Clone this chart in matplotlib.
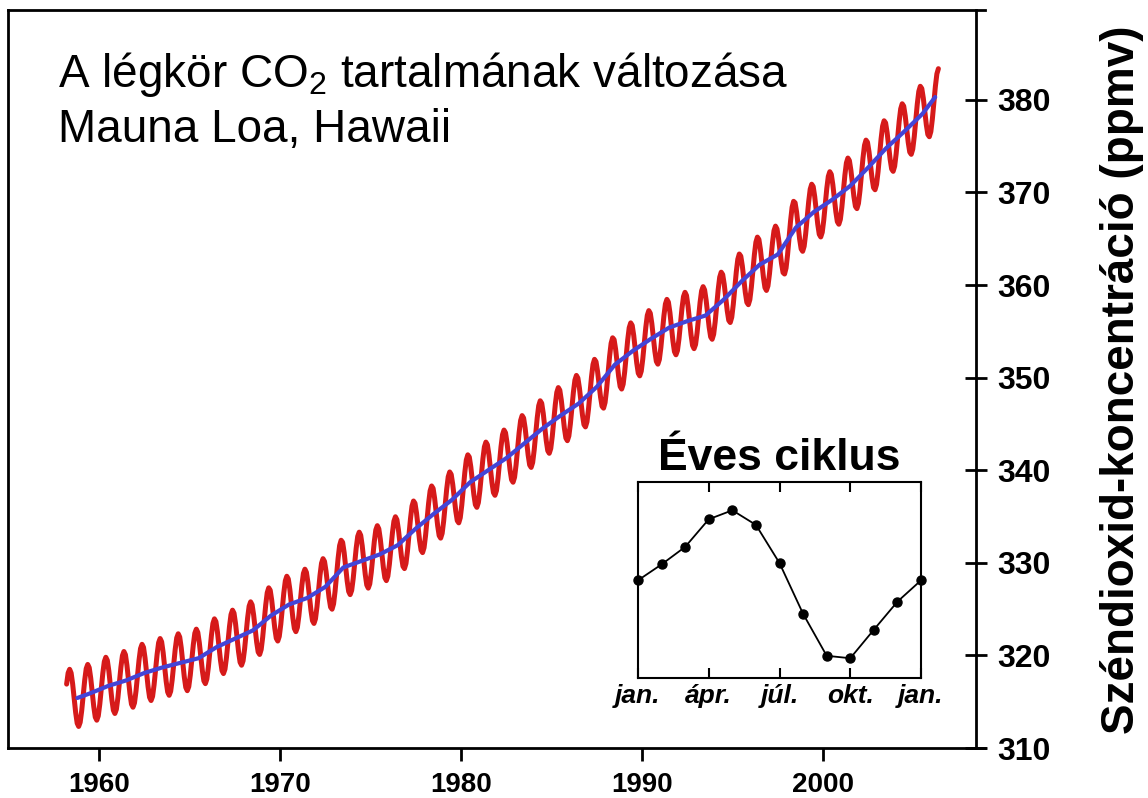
import numpy as np
import matplotlib
matplotlib.use('Agg')
import matplotlib.pyplot as plt

plt.rcParams['font.family'] = ['Liberation Sans', 'DejaVu Sans']
plt.rcParams['mathtext.fontset'] = 'custom'
plt.rcParams['mathtext.rm'] = 'Liberation Sans'
plt.rcParams['mathtext.it'] = 'Liberation Sans:italic'
plt.rcParams['mathtext.bf'] = 'Liberation Sans:bold'

# ---------------- data ----------------
years = list(range(1958, 2007))
annual_mean = [315.3, 315.9, 316.7, 317.3, 318.1, 318.7, 319.2, 319.7, 320.9, 321.8,
               322.7, 324.3, 325.5, 326.2, 327.4, 329.5, 330.2, 330.9, 331.9, 333.7,
               335.3, 336.8, 338.7, 340.0, 341.3, 342.9, 344.5, 345.9, 347.2, 349.0,
               351.4, 352.9, 354.2, 355.4, 356.1, 356.7, 358.4, 360.4, 362.2, 363.3,
               366.2, 367.9, 369.2, 370.7, 372.7, 374.8, 376.6, 378.5, 380.4]
# seasonal swing of the red (monthly) curve around the trend, Jan ... Dec (ppm)
red_cycle = [-1.6, 0.0, 1.6, 2.8, 3.2, 2.8, 1.6, 0.0, -1.6, -2.8, -3.2, -2.8]
# inset "Éves ciklus" points, Jan ... Dec, Jan (ppm offset)
seasonal_cycle = [0.0, 0.71, 1.49, 2.72, 3.12, 2.47, 0.77, -1.49, -3.36, -3.47,
                  -2.20, -0.95, 0.0]
first_month = 2   # record starts March 1958
last_month = 4    # record shown until May 2006
trend_start = (1958.8, 315.4)
trend_end = (2006.2, 380.3)

x_ticks = [1960, 1970, 1980, 1990, 2000]
y_ticks = [310, 320, 330, 340, 350, 360, 370, 380]
inset_ticks = [0, 3, 6, 9, 12]
inset_labels = ['jan.', 'ápr.', 'júl.', 'okt.', 'jan.']

title1 = 'A légkör CO$_2$ tartalmának változása'
title2 = 'Mauna Loa, Hawaii'
ylabel = 'Széndioxid-koncentráció (ppmv)'
inset_title = 'Éves ciklus'

# ---------------- build series ----------------
mid_years = [y + 0.5 for y in years]
red_t, red_v = [], []
for y in years:
    for m in range(12):
        if y == years[0] and m < first_month:
            continue
        if y == years[-1] and m > last_month:
            continue
        t = y + (m + 0.5) / 12
        red_t.append(t)
        red_v.append(np.interp(t, mid_years, annual_mean) + red_cycle[m])

blue_t = [trend_start[0]] + mid_years[1:-1] + [trend_end[0]]
blue_v = [trend_start[1]] + annual_mean[1:-1] + [trend_end[1]]

# ---------------- figure ----------------
W, H = 1148, 798
fig = plt.figure(figsize=(W / 100, H / 100), dpi=100)
fig.patch.set_facecolor('white')

ax = fig.add_axes([8 / W, 1 - 748 / H, 977 / W, 738 / H])
ax.plot(red_t, red_v, color='#d61a1a', lw=3.6, solid_capstyle='round',
        solid_joinstyle='round', zorder=2)
ax.plot(blue_t, blue_v, color='#4444d6', lw=3.0, solid_capstyle='round',
        solid_joinstyle='round', zorder=3)

ax.set_xlim(1954.97, 2008.95)
ax.set_ylim(310, 389.7)
for s in ax.spines.values():
    s.set_linewidth(2.0)
ax.spines['right'].set_position(('axes', 0.9908))

ax.yaxis.tick_right()
ax.set_yticks(y_ticks)
ax.set_yticklabels([str(v) for v in y_ticks], fontweight='bold')
ax.tick_params(axis='y', direction='inout', length=16, width=2, pad=7,
               labelsize=23, right=True, left=False)
ax.set_xticks(x_ticks)
ax.set_xticklabels([str(v) for v in x_ticks], fontweight='bold')
ax.tick_params(axis='x', direction='out', length=9, width=2, pad=8, labelsize=20)

fig.text(1122 / W, 1 - 380 / H, ylabel, rotation=90, ha='center', va='center',
         fontsize=33, fontweight='bold')

fig.text(58 / W, 1 - 87 / H, title1, ha='left', va='baseline', fontsize=33)
fig.text(58 / W, 1 - 142 / H, title2, ha='left', va='baseline', fontsize=33)

# ---------------- inset ----------------
ins = fig.add_axes([638 / W, 1 - 678 / H, 283 / W, 196 / H])
months = list(range(len(seasonal_cycle)))
ins.plot(months, seasonal_cycle, color='black', lw=1.3, marker='o', ms=6.5,
         clip_on=False, zorder=3)
ins.set_xlim(0, 12)
ins.set_ylim(-4.35, 4.38)
ins.set_yticks([])
ins.set_xticks(inset_ticks)
ins.set_xticklabels(inset_labels, fontweight='bold', fontstyle='italic')
ins.tick_params(axis='x', direction='in', top=True, length=7, width=1.5,
                labelsize=19, pad=4)
for s in ins.spines.values():
    s.set_linewidth(1.5)
ins.set_title(inset_title, fontsize=32, fontweight='bold', pad=9)

fig.savefig('out.png', dpi=100)
